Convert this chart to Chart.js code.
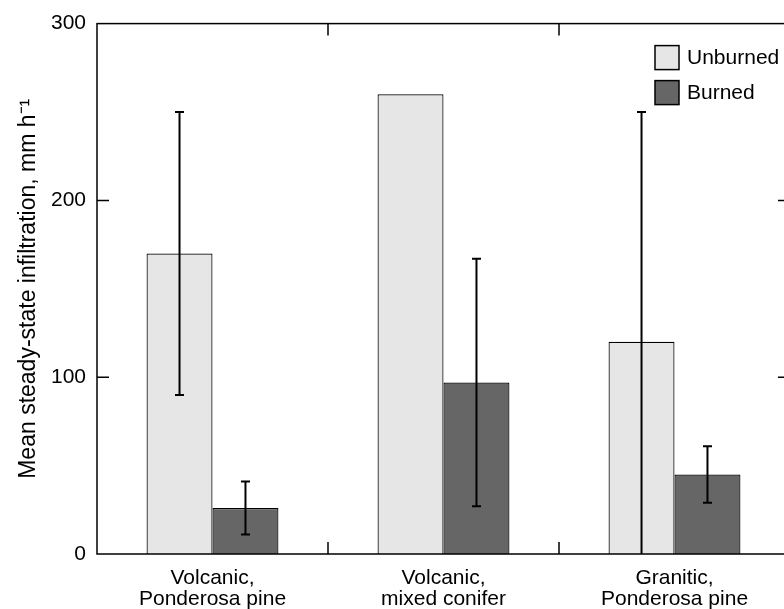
<!DOCTYPE html>
<html>
<head>
<meta charset="utf-8">
<script src="https://cdn.jsdelivr.net/npm/chart.js@4/dist/chart.umd.min.js"></script>
<style>
  html, body { margin: 0; padding: 0; background: #fff; overflow: hidden; }
  #wrap { position: relative; width: 800px; height: 609px; }
</style>
</head>
<body>
<div id="wrap"><canvas id="infiltrationChart"></canvas></div>
<script>
const categories = [
  ["Volcanic,", "Ponderosa pine"],
  ["Volcanic,", "mixed conifer"],
  ["Granitic,", "Ponderosa pine"],
];
const unburnedMean = [170, 260, 120];
const unburnedErr = [80, null, 130];
const burnedMean = [26, 97, 45];
const burnedErr = [15, 70, 16];
const yTicks = [0, 100, 200, 300];

const FONT = "'Liberation Sans', Arial, Helvetica, sans-serif";

// error bars, clipped to the plot area
const errorBars = {
  id: "errorBars",
  afterDatasetsDraw(chart) {
    const { ctx, chartArea, scales } = chart;
    ctx.save();
    ctx.beginPath();
    ctx.rect(chartArea.left, chartArea.top, chartArea.width, chartArea.height);
    ctx.clip();
    ctx.strokeStyle = "#000";
    ctx.lineWidth = 2;
    chart.data.datasets.forEach((ds, d) => {
      const meta = chart.getDatasetMeta(d);
      meta.data.forEach((bar, i) => {
        const e = ds.err[i];
        if (e == null) return;
        const v = ds.data[i];
        const yHi = scales.y.getPixelForValue(v + e);
        const yLo = scales.y.getPixelForValue(v - e);
        ctx.beginPath();
        ctx.moveTo(bar.x, yHi);
        ctx.lineTo(bar.x, yLo);
        ctx.moveTo(bar.x - 4.5, yHi);
        ctx.lineTo(bar.x + 4.5, yHi);
        ctx.moveTo(bar.x - 4.5, yLo);
        ctx.lineTo(bar.x + 4.5, yLo);
        ctx.stroke();
      });
    });
    ctx.restore();
  },
};

// box frame with inward ticks, plus legend in the top right corner
const frame = {
  id: "frame",
  afterDraw(chart) {
    const { ctx, chartArea: a, scales } = chart;
    ctx.save();
    ctx.strokeStyle = "#000";
    ctx.lineWidth = 1.5;
    ctx.strokeRect(a.left, a.top, a.width, a.height);

    const len = 12;
    ctx.beginPath();
    scales.y.ticks.forEach((t) => {
      if (t.value <= 0 || t.value >= 300) return;
      const y = scales.y.getPixelForValue(t.value);
      ctx.moveTo(a.left, y);
      ctx.lineTo(a.left + len, y);
      ctx.moveTo(a.right, y);
      ctx.lineTo(a.right - len, y);
    });
    for (let i = 0; i < categories.length - 1; i++) {
      const x = (scales.x.getPixelForTick(i) + scales.x.getPixelForTick(i + 1)) / 2;
      ctx.moveTo(x, a.bottom);
      ctx.lineTo(x, a.bottom - len);
      ctx.moveTo(x, a.top);
      ctx.lineTo(x, a.top + len);
    }
    ctx.stroke();

    // legend
    const lx = a.right - 135;
    let ly = a.top + 22;
    ctx.font = "21px " + FONT;
    ctx.textBaseline = "middle";
    ctx.textAlign = "left";
    chart.data.datasets.forEach((ds) => {
      ctx.fillStyle = ds.backgroundColor;
      ctx.fillRect(lx, ly, 24, 24);
      ctx.lineWidth = 1.5;
      ctx.strokeRect(lx, ly, 24, 24);
      ctx.fillStyle = "#000";
      ctx.fillText(ds.label, lx + 32, ly + 13);
      ly += 35;
    });
    ctx.restore();
  },
};

new Chart(document.getElementById("infiltrationChart"), {
  type: "bar",
  data: {
    labels: categories,
    datasets: [
      {
        label: "Unburned",
        data: unburnedMean,
        err: unburnedErr,
        backgroundColor: "#e6e6e6",
        borderColor: "#000",
        borderWidth: 1.2,
      },
      {
        label: "Burned",
        data: burnedMean,
        err: burnedErr,
        backgroundColor: "#666666",
        borderColor: "#000",
        borderWidth: 1.2,
      },
    ],
  },
  options: {
    responsive: true,
    maintainAspectRatio: false,
    animation: false,
    layout: { padding: { top: 20, right: 10, left: 0, bottom: 0 } },
    datasets: { bar: { barPercentage: 1, categoryPercentage: 0.571 } },
    plugins: {
      legend: { display: false },
      tooltip: { enabled: false },
    },
    scales: {
      x: {
        grid: { display: false, drawTicks: false },
        border: { display: false },
        ticks: {
          color: "#000",
          padding: 14,
          maxRotation: 0,
          font: { family: FONT, size: 21, lineHeight: 1.0 },
        },
        afterFit: (s) => { s.height = 55; },
      },
      y: {
        min: 0,
        max: 300,
        afterBuildTicks: (s) => { s.ticks = yTicks.map((v) => ({ value: v })); },
        grid: { display: false, drawTicks: false },
        border: { display: false },
        ticks: {
          color: "#000",
          padding: 11,
          font: { family: FONT, size: 21 },
        },
        title: {
          display: true,
          text: "Mean steady-state infiltration, mm h\u207B\u00B9",
          color: "#000",
          padding: { top: 15, bottom: 0 },
          font: { family: FONT, size: 23 },
        },
        afterFit: (s) => { s.width = 97; },
      },
    },
  },
  plugins: [errorBars, frame],
});
</script>
</body>
</html>
